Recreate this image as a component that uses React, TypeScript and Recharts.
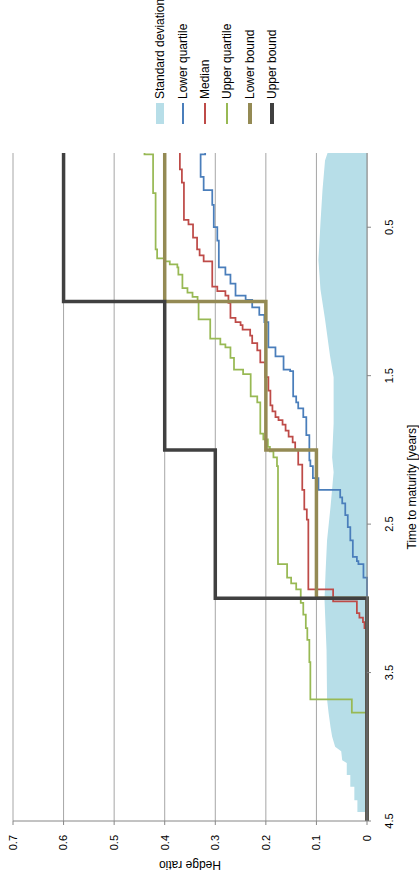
import { ComposedChart, Area, Line, XAxis, YAxis, CartesianGrid } from "recharts"

// time to maturity [years] and hedge ratio, one pair of arrays per series
const sdT = [0, 0.05, 0.25, 0.47, 0.72, 0.92, 1.12, 1.37, 1.51, 1.82, 2.05, 2.15, 2.38, 2.61, 2.83, 3.01, 3.35, 3.68, 3.77, 3.87, 3.93, 4.0, 4.03, 4.09, 4.11, 4.19, 4.19, 4.27, 4.27, 4.36, 4.36, 4.44, 4.44, 4.5]
const sdV = [0.078, 0.083, 0.088, 0.092, 0.096, 0.092, 0.083, 0.073, 0.066, 0.066, 0.069, 0.066, 0.072, 0.079, 0.082, 0.084, 0.08, 0.079, 0.076, 0.072, 0.069, 0.063, 0.051, 0.049, 0.04, 0.04, 0.033, 0.033, 0.025, 0.025, 0.019, 0.019, 0, 0]

const lqT = [0, 0.01, 0.16, 0.25, 0.35, 0.5, 0.59, 0.77, 0.82, 0.88, 0.96, 0.99, 1.04, 1.09, 1.14, 1.31, 1.37, 1.46, 1.47, 1.64, 1.68, 1.72, 1.78, 1.9, 2.07, 2.11, 2.19, 2.27, 2.32, 2.36, 2.44, 2.52, 2.61, 2.72, 2.75, 2.77, 2.86, 4.5]
const lqV = [0.32, 0.329, 0.323, 0.306, 0.303, 0.296, 0.293, 0.28, 0.27, 0.26, 0.24, 0.227, 0.213, 0.203, 0.195, 0.181, 0.165, 0.152, 0.146, 0.14, 0.136, 0.126, 0.12, 0.114, 0.112, 0.107, 0.096, 0.053, 0.049, 0.043, 0.038, 0.033, 0.028, 0.02, 0.017, 0.007, 0, 0]

const medT = [0, 0.11, 0.2, 0.45, 0.48, 0.57, 0.65, 0.69, 0.73, 0.9, 0.93, 0.96, 1.01, 1.11, 1.14, 1.16, 1.19, 1.23, 1.28, 1.33, 1.41, 1.51, 1.6, 1.7, 1.74, 1.78, 1.8, 1.83, 1.87, 1.91, 1.95, 2.0, 2.1, 2.27, 2.4, 2.47, 2.94, 3.02, 3.1, 3.13, 3.16, 3.2, 4.5]
const medV = [0.37, 0.366, 0.362, 0.353, 0.344, 0.336, 0.331, 0.323, 0.306, 0.296, 0.28, 0.274, 0.27, 0.26, 0.25, 0.246, 0.231, 0.227, 0.217, 0.211, 0.201, 0.195, 0.191, 0.187, 0.181, 0.175, 0.167, 0.161, 0.155, 0.147, 0.142, 0.136, 0.128, 0.124, 0.119, 0.116, 0.067, 0.02, 0.015, 0.008, 0.005, 0, 0]

const uqT = [0, 0.01, 0.27, 0.65, 0.71, 0.73, 0.75, 0.77, 0.82, 0.91, 0.94, 0.97, 1.0, 1.12, 1.25, 1.29, 1.31, 1.38, 1.46, 1.49, 1.64, 1.68, 1.89, 1.93, 1.98, 2.01, 2.05, 2.11, 2.77, 2.86, 2.9, 2.94, 3.03, 3.11, 3.2, 3.28, 3.43, 3.68, 3.77, 4.5]
const uqV = [0.44, 0.423, 0.418, 0.415, 0.4, 0.39, 0.375, 0.373, 0.365, 0.355, 0.345, 0.335, 0.333, 0.31, 0.29, 0.28, 0.27, 0.263, 0.245, 0.23, 0.217, 0.211, 0.205, 0.196, 0.192, 0.185, 0.178, 0.176, 0.158, 0.15, 0.14, 0.131, 0.126, 0.121, 0.118, 0.114, 0.112, 0.03, 0, 0]

const lbT = [0, 1, 2, 3, 4.5]
const lbV = [0.4, 0.2, 0.1, 0, 0]

const ubT = [0, 1, 2, 3, 4.5]
const ubV = [0.6, 0.4, 0.3, 0, 0]

const timeTicks = [0.5, 1.5, 2.5, 3.5, 4.5]
const ratioTicks = [0, 0.1, 0.2, 0.3, 0.4, 0.5, 0.6, 0.7]

const rows = (t: number[], v: number[]) => t.map((x, i) => ({ t: x, v: v[i] }))

const FONT = "'Liberation Sans', Arial, sans-serif"

const legendItems = [
    { name: "Standard deviation", color: "#b7dee8", h: 8 },
    { name: "Lower quartile", color: "#4a7ebb", h: 2 },
    { name: "Median", color: "#be4b48", h: 2 },
    { name: "Upper quartile", color: "#98b954", h: 2 },
    { name: "Lower bound", color: "#948a54", h: 3.5 },
    { name: "Upper bound", color: "#404040", h: 3.5 },
]

export default function App() {
    return (
        <div style={{ position: "absolute", left: 0, top: 0, width: 419, height: 877, overflow: "hidden", background: "#fff" }}>
            {/* the chart is drawn landscape and turned a quarter turn counter-clockwise */}
            <div
                style={{
                    position: "absolute",
                    left: 0,
                    top: 0,
                    width: 877,
                    height: 419,
                    transformOrigin: "0 0",
                    transform: "translate(0px, 877px) rotate(-90deg)",
                    fontFamily: FONT,
                }}
            >
                <ComposedChart width={877} height={419} margin={{ top: 13, right: 153, bottom: 22, left: 12 }}>
                    <CartesianGrid vertical={false} stroke="#a6a6a6" />
                    <XAxis
                        dataKey="t"
                        type="number"
                        domain={[0, 4.5]}
                        reversed
                        allowDataOverflow
                        ticks={timeTicks}
                        height={30}
                        tickSize={4}
                        tickMargin={14}
                        stroke="#868686"
                        tick={{ fontSize: 11, fill: "#000" }}
                        label={{ value: "Time to maturity [years]", position: "bottom", offset: 10, fontSize: 12, fill: "#000" }}
                    />
                    <YAxis
                        type="number"
                        domain={[0, 0.7]}
                        ticks={ratioTicks}
                        width={44}
                        tickSize={4}
                        tickMargin={10}
                        stroke="#868686"
                        tick={{ fontSize: 11, fill: "#000" }}
                        label={{ value: "Hedge ratio", angle: -90, position: "insideLeft", offset: 0, fontSize: 12, fill: "#000", style: { textAnchor: "middle" } }}
                    />
                    <Area data={rows(sdT, sdV)} dataKey="v" type="linear" stroke="none" fill="#b7dee8" fillOpacity={1} isAnimationActive={false} />
                    <Line data={rows(lqT, lqV)} dataKey="v" type="stepAfter" stroke="#4a7ebb" strokeWidth={1.75} dot={false} activeDot={false} isAnimationActive={false} />
                    <Line data={rows(medT, medV)} dataKey="v" type="stepAfter" stroke="#be4b48" strokeWidth={1.75} dot={false} activeDot={false} isAnimationActive={false} />
                    <Line data={rows(uqT, uqV)} dataKey="v" type="stepAfter" stroke="#98b954" strokeWidth={1.75} dot={false} activeDot={false} isAnimationActive={false} />
                    <Line data={rows(lbT, lbV)} dataKey="v" type="stepAfter" stroke="#948a54" strokeWidth={3.5} dot={false} activeDot={false} isAnimationActive={false} />
                    <Line data={rows(ubT, ubV)} dataKey="v" type="stepAfter" stroke="#404040" strokeWidth={3.5} dot={false} activeDot={false} isAnimationActive={false} />
                </ComposedChart>

                <div style={{ position: "absolute", left: 753, top: 149 }}>
                    {legendItems.map((it) => (
                        <div key={it.name} style={{ display: "flex", alignItems: "center", height: 22.4 }}>
                            <div style={{ width: 21, height: it.h, background: it.color }} />
                            <span style={{ marginLeft: 4, fontSize: 12, color: "#000", whiteSpace: "nowrap" }}>{it.name}</span>
                        </div>
                    ))}
                </div>
            </div>
        </div>
    )
}
